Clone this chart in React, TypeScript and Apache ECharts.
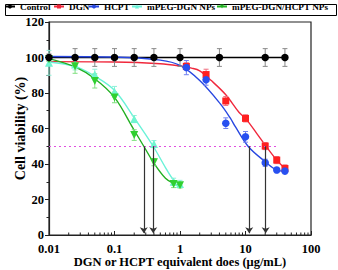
import React, { useEffect, useRef } from "react";
import * as echarts from "echarts";

// ---- data ----
const seriesNames = ["Control", "DGN", "HCPT", "mPEG-DGN NPs", "mPEG-DGN/HCPT NPs"];

const controlX = [0.01, 0.025, 0.05, 0.1, 0.2, 0.4, 1, 4, 20, 40];
const controlY = [100, 100, 100, 100, 100, 100, 100, 100, 100, 100];
const controlErr = [2, 5, 5, 5, 5, 5, 5, 5, 5, 5];

const dgnX = [1.25, 2.5, 5, 10, 20, 30, 40];
const dgnY = [95, 90.4, 75.5, 65.7, 50.1, 42.2, 37.5];
const dgnErr = [2, 3, 2.5, 2, 2, 2, 2];

const hcptX = [1.25, 2.5, 5, 10, 20, 30, 40];
const hcptY = [94.3, 87.4, 63, 55.3, 40.7, 36.6, 36];
const hcptErr = [4, 3, 3, 3, 2, 1.5, 1.5];

const npX = [0.01, 0.025, 0.05, 0.1, 0.2, 0.4, 0.8, 1];
const npY = [97, 96, 90.4, 80.7, 65.3, 51.2, 30, 28.8];
const npErr = [7, 3, 3, 3, 2, 2, 2, 2];

const coX = [0.01, 0.025, 0.05, 0.1, 0.2, 0.4, 0.8, 1];
const coY = [99, 95.1, 86.8, 77.5, 56.3, 41, 28.7, 28];
const coErr = [1, 4, 4, 3, 3, 2, 2, 1.5];

// fitted curves
const controlFitX = [0.01, 40];
const controlFitY = [100, 100];
const dgnFitX = [0.01, 0.1, 0.5, 1, 1.5, 2, 3, 5, 8, 10, 15, 20, 30, 40];
const dgnFitY = [97.7, 97.5, 96.5, 95.2, 94, 92.5, 87, 79, 69, 65.7, 57, 50.6, 42.2, 37.5];
const hcptFitX = [0.01, 0.1, 0.5, 1, 2, 4.1, 5.9, 7, 11.1, 20, 30, 40];
const hcptFitY = [100.6, 100.3, 98.5, 95.5, 87, 74, 65.7, 61, 49.7, 41.3, 36.6, 36];
const npFitX = [0.01, 0.025, 0.05, 0.1, 0.2, 0.39, 0.6, 0.8, 1];
const npFitY = [97.5, 95, 89.5, 81.5, 66, 50, 38, 31, 29];
const coFitX = [0.01, 0.025, 0.05, 0.1, 0.2, 0.28, 0.4, 0.6, 0.8, 1];
const coFitY = [99.4, 94.7, 88, 77.5, 59, 50, 40.5, 32, 29, 27.8];

const ic50X = [0.28, 0.39, 11.4, 20.3];
const halfLevel = 50;
const halfLineEnd = 30;

const xTickLabels = ["0.01", "0.1", "1", "10", "100"];
const yMin = 0, yMax = 120, yStep = 20;

// ---- style ----
const FONT = "'Liberation Serif', 'Times New Roman', serif";
const colors = {
  control: "#000000",
  dgn: "#f0283c",
  hcpt: "#2847e0",
  np: "#6af2d8",
  co: "#22b022",
};
const markerColors = {
  control: "#000000",
  dgn: "#ff2020",
  hcpt: "#2850f0",
  np: "#70f5d0",
  co: "#30d030",
};
const errColors = {
  control: "#8a8a8a",
  dgn: "#f07080",
  hcpt: "#7080f0",
  np: "#90f0d8",
  co: "#80e080",
};
// left offsets of each legend entry
const legendLefts = [4, 53, 88, 131, 216];

const pairs = (xs: number[], ys: number[]) => xs.map((x, i) => [x, ys[i]]);
const triples = (xs: number[], ys: number[], es: number[]) => xs.map((x, i) => [x, ys[i], es[i]]);

function errorSeries(data: number[][], color: string, name: string) {
  return {
    type: "custom",
    name: name + "-err",
    silent: true,
    z: 3,
    renderItem: (params: any, api: any) => {
      const x = api.value(0), y = api.value(1), e = api.value(2);
      const top = api.coord([x, y + e]);
      const bot = api.coord([x, y - e]);
      const w = 2.5;
      const st = { stroke: color, lineWidth: 1 };
      return {
        type: "group",
        children: [
          { type: "line", shape: { x1: top[0], y1: top[1], x2: bot[0], y2: bot[1] }, style: st },
          { type: "line", shape: { x1: top[0] - w, y1: top[1], x2: top[0] + w, y2: top[1] }, style: st },
          { type: "line", shape: { x1: bot[0] - w, y1: bot[1], x2: bot[0] + w, y2: bot[1] }, style: st },
        ],
      };
    },
    data,
  };
}

function fitSeries(name: string, xs: number[], ys: number[], color: string, symbol: string, rotate = 0) {
  return {
    type: "line",
    name,
    data: pairs(xs, ys),
    smooth: 0.35,
    showSymbol: false,
    symbol,
    symbolRotate: rotate,
    symbolSize: 4,
    z: 2,
    lineStyle: { color, width: 1.4 },
    itemStyle: { color },
  };
}

function pointSeries(name: string, xs: number[], ys: number[], color: string, symbol: string, size: number, rotate = 0, z = 4) {
  return {
    type: "scatter",
    name: name + "-pts",
    data: pairs(xs, ys),
    symbol,
    symbolSize: size,
    symbolRotate: rotate,
    itemStyle: { color, opacity: 1 },
    z,
    silent: true,
  };
}

// minor tick positions of a log axis (2..9 in each decade)
const minorTickValues: number[] = [];
for (let d = -2; d < 2; d++) {
  for (let m = 2; m <= 9; m++) minorTickValues.push(m * Math.pow(10, d));
}

export default function App() {
  const ref = useRef<HTMLDivElement>(null);
  useEffect(() => {
    if (!ref.current) return;
    const chart = echarts.init(ref.current, null, { renderer: "svg" });
    const option: any = {
      animation: false,
      backgroundColor: "#ffffff",
      textStyle: { fontFamily: FONT },
      legend: seriesNames.map((n, i) => ({
        data: [n],
        left: legendLefts[i],
        top: 2,
        padding: 0,
        align: "left",
        orient: "horizontal",
        itemWidth: 10,
        itemHeight: 5,
        selectedMode: false,
        textStyle: { fontFamily: FONT, fontWeight: "bold", fontSize: 9.2, color: "#000" },
      })),
      graphic: [
        {
          type: "rect",
          left: 3,
          top: 2,
          shape: { width: 331, height: 11 },
          style: { fill: "none", stroke: "#000", lineWidth: 1 },
          silent: true,
        },
      ],
      grid: {
        left: 49, right: 27, top: 22, bottom: 35,
        outerBoundsMode: "none",
        containLabel: false,
        show: true, borderColor: "#222", borderWidth: 1.2, backgroundColor: "transparent",
      },
      xAxis: {
        type: "log",
        logBase: 10,
        min: 0.01,
        max: 100,
        name: "DGN or HCPT equivalent does (μg/mL)",
        nameLocation: "middle",
        nameGap: 20,
        nameMoveOverlap: false,
        nameTextStyle: { fontFamily: FONT, fontWeight: "bold", fontSize: 12.5, color: "#000" },
        axisLine: { lineStyle: { color: "#222", width: 1.2 } },
        axisTick: { inside: true, length: 4, lineStyle: { color: "#222" } },
        axisLabel: {
          fontFamily: FONT, fontWeight: "bold", fontSize: 12.5, color: "#000", margin: 7,
          formatter: (v: number) => {
            const idx = Math.round(Math.log10(v)) + 2;
            return xTickLabels[idx] ?? "";
          },
        },
        splitLine: { show: false },
      },
      yAxis: {
        type: "value",
        min: yMin,
        max: yMax,
        interval: yStep,
        name: "Cell viability (%)",
        nameLocation: "middle",
        nameGap: 22,
        nameMoveOverlap: false,
        nameTextStyle: { fontFamily: FONT, fontWeight: "bold", fontSize: 14, color: "#000" },
        axisLine: { show: true, lineStyle: { color: "#222", width: 1.2 } },
        axisTick: { show: true, inside: false, length: 4, lineStyle: { color: "#222" } },
        minorTick: { show: true, splitNumber: 2, length: 2.5, lineStyle: { color: "#222" } },
        axisLabel: { fontFamily: FONT, fontWeight: "bold", fontSize: 12.5, color: "#000", margin: 5 },
        splitLine: { show: false },
      },
      series: [
        {
          type: "custom",
          name: "minor-ticks",
          silent: true,
          z: 1,
          clip: false,
          renderItem: (params: any, api: any) => {
            const p = api.coord([api.value(0), yMin]);
            return {
              type: "line",
              shape: { x1: p[0], y1: p[1], x2: p[0], y2: p[1] - 2.5 },
              style: { stroke: "#222", lineWidth: 1 },
            };
          },
          data: minorTickValues.map((v) => [v, yMin]),
        },
        {
          ...fitSeries(seriesNames[0], controlFitX, controlFitY, colors.control, "circle"),
          markLine: {
            silent: true,
            symbol: "none",
            label: { show: false },
            lineStyle: { color: "#e050e0", type: [2, 3], width: 1.2 },
            data: [[{ coord: [0.01, halfLevel] }, { coord: [halfLineEnd, halfLevel] }]],
          },
        },
        fitSeries(seriesNames[1], dgnFitX, dgnFitY, colors.dgn, "rect"),
        fitSeries(seriesNames[2], hcptFitX, hcptFitY, colors.hcpt, "circle"),
        fitSeries(seriesNames[3], npFitX, npFitY, colors.np, "triangle"),
        {
          ...fitSeries(seriesNames[4], coFitX, coFitY, colors.co, "triangle", 180),
          markLine: {
            silent: true,
            symbol: ["none", "arrow"],
            symbolSize: 6,
            label: { show: false },
            lineStyle: { color: "#333", type: "solid", width: 1.2 },
            data: ic50X.map((x) => [{ coord: [x, halfLevel] }, { coord: [x, yMin + 1] }]),
          },
        },
        errorSeries(triples(controlX, controlY, controlErr), errColors.control, "control"),
        errorSeries(triples(dgnX, dgnY, dgnErr), errColors.dgn, "dgn"),
        errorSeries(triples(hcptX, hcptY, hcptErr), errColors.hcpt, "hcpt"),
        errorSeries(triples(npX, npY, npErr), errColors.np, "np"),
        errorSeries(triples(coX, coY, coErr), errColors.co, "co"),
        pointSeries("np", npX, npY, markerColors.np, "triangle", 8),
        pointSeries("co", coX, coY, markerColors.co, "triangle", 8, 180),
        pointSeries("dgn", dgnX, dgnY, markerColors.dgn, "rect", 7),
        pointSeries("hcpt", hcptX, hcptY, markerColors.hcpt, "circle", 7.5),
        pointSeries("control", controlX, controlY, markerColors.control, "circle", 7.5, 0, 5),
      ],
    };
    chart.setOption(option);
    return () => chart.dispose();
  }, []);
  return <div ref={ref} style={{ position: "fixed", left: 0, top: 0, width: 338, height: 270 }} />;
}
